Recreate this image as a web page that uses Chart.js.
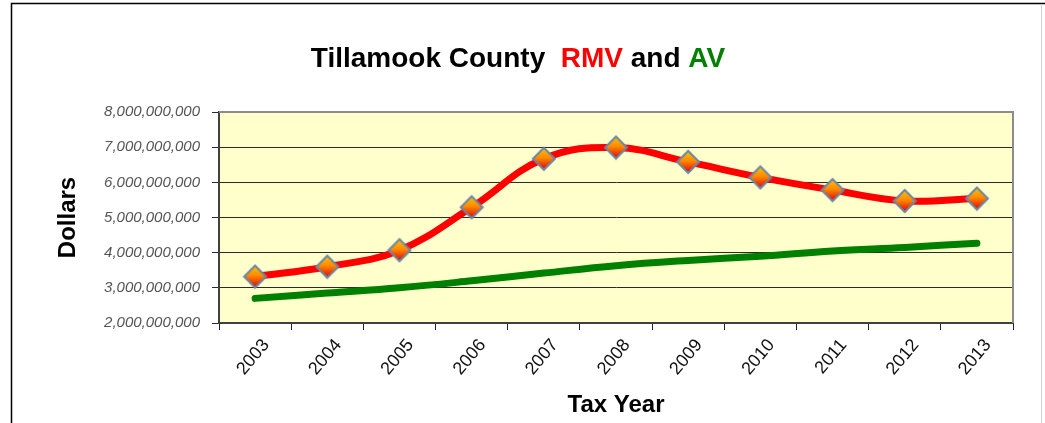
<!DOCTYPE html>
<html>
<head>
<meta charset="utf-8">
<script src="https://cdn.jsdelivr.net/npm/chart.js@4.4.0/dist/chart.umd.min.js"></script>
<style>
html,body{margin:0;padding:0;background:#fff;}
canvas{display:block;}
</style>
</head>
<body>
<canvas id="c" width="1045" height="423"></canvas>
<script>
// ---- data ----
const years = ['2003','2004','2005','2006','2007','2008','2009','2010','2011','2012','2013'];
const rmv = [3320000000, 3600000000, 4070000000, 5290000000, 6670000000, 6990000000, 6580000000, 6140000000, 5780000000, 5470000000, 5540000000];
const av  = [2700000000, 2850000000, 3000000000, 3200000000, 3420000000, 3630000000, 3780000000, 3900000000, 4050000000, 4150000000, 4270000000];
const yMin = 2000000000;
const yMax = 8000000000;
const yStep = 1000000000;
const titleParts = [
  {text: 'Tillamook County', color: '#000000'},
  {text: '  ', color: '#000000'},
  {text: 'RMV', color: '#ff0000'},
  {text: ' and ', color: '#000000'},
  {text: 'AV', color: '#008000'}
];

// diamond marker image
function makeDiamond() {
  const s = 26;
  const cv = document.createElement('canvas');
  cv.width = s; cv.height = s;
  const g = cv.getContext('2d');
  const c = s / 2, r = 11;
  g.beginPath();
  g.moveTo(c, c - r); g.lineTo(c + r, c); g.lineTo(c, c + r); g.lineTo(c - r, c); g.closePath();
  const grad = g.createLinearGradient(0, c - r, 0, c + r);
  grad.addColorStop(0, '#ffc400');
  grad.addColorStop(0.45, '#ff8a00');
  grad.addColorStop(1, '#e00000');
  g.fillStyle = grad;
  g.fill();
  g.lineWidth = 2;
  g.strokeStyle = '#6a86a8';
  g.stroke();
  return cv;
}
const diamond = makeDiamond();

const decor = {
  id: 'decor',
  beforeDraw(chart) {
    const {ctx, chartArea: a} = chart;
    ctx.save();
    ctx.fillStyle = '#ffffff';
    ctx.fillRect(0, 0, chart.width, chart.height);
    ctx.fillStyle = '#ffffcc';
    ctx.fillRect(a.left, a.top, a.right - a.left, a.bottom - a.top);
    // outer frame
    ctx.strokeStyle = '#000';
    ctx.lineWidth = 1.5;
    ctx.beginPath();
    ctx.moveTo(11.5, 423); ctx.lineTo(11.5, 3.5); ctx.lineTo(1045, 3.5);
    ctx.stroke();
    ctx.strokeStyle = '#d0d0d0';
    ctx.lineWidth = 1;
    ctx.beginPath();
    ctx.moveTo(1041.5, 4); ctx.lineTo(1041.5, 423);
    ctx.stroke();
    ctx.restore();
  },
  beforeDatasetsDraw(chart) {
    const {ctx, chartArea: a} = chart;
    ctx.save();
    ctx.strokeStyle = '#8c8c8c';
    ctx.lineWidth = 2;
    ctx.beginPath();
    ctx.moveTo(a.left, a.top); ctx.lineTo(a.right, a.top); ctx.lineTo(a.right, a.bottom);
    ctx.stroke();
    ctx.restore();
  },
  afterDraw(chart) {
    const ctx = chart.ctx;
    ctx.save();
    ctx.font = 'bold 28px "Liberation Sans", Arial, sans-serif';
    ctx.textBaseline = 'alphabetic';
    ctx.textAlign = 'left';
    const total = titleParts.reduce((w, p) => w + ctx.measureText(p.text).width, 0);
    let x = 518 - total / 2;
    for (const p of titleParts) {
      ctx.fillStyle = p.color;
      ctx.fillText(p.text, x, 67);
      x += ctx.measureText(p.text).width;
    }
    ctx.restore();
  }
};

new Chart(document.getElementById('c'), {
  type: 'line',
  data: {
    labels: years,
    datasets: [
      {
        label: 'RMV',
        data: rmv,
        borderColor: '#ff0000',
        borderWidth: 7,
        tension: 0.4,
        borderCapStyle: 'round',
        pointStyle: diamond,
        pointRadius: 11,
        pointHoverRadius: 11,
        fill: false
      },
      {
        label: 'AV',
        data: av,
        borderColor: '#008000',
        borderWidth: 7,
        tension: 0.4,
        borderCapStyle: 'round',
        pointRadius: 0,
        pointHoverRadius: 0,
        fill: false
      }
    ]
  },
  options: {
    responsive: false,
    animation: false,
    devicePixelRatio: 1,
    layout: {padding: {top: 112, right: 32, bottom: 0, left: 50}},
    plugins: {legend: {display: false}, tooltip: {enabled: false}, title: {display: false}},
    scales: {
      x: {
        type: 'category',
        offset: true,
        grid: {offset: true, drawOnChartArea: false, drawTicks: true, tickLength: 7, color: '#222', lineWidth: 1},
        border: {color: '#404040', width: 2},
        ticks: {
          autoSkip: false, minRotation: 50, maxRotation: 50, labelOffset: 11, padding: 5,
          color: '#111', font: {family: '"Liberation Sans", Arial, sans-serif', size: 18}
        },
        title: {display: true, text: 'Tax Year', color: '#000', padding: {top: 0, bottom: 3},
          font: {family: '"Liberation Sans", Arial, sans-serif', size: 24, weight: 'bold'}},
        afterFit(s) { s.height = 100; }
      },
      y: {
        type: 'linear',
        min: yMin, max: yMax,
        grid: {color: '#2a2a2a', lineWidth: 1, tickLength: 7},
        border: {color: '#404040', width: 2},
        ticks: {
          stepSize: yStep, padding: 12, color: '#555',
          font: {family: '"Liberation Sans", Arial, sans-serif', size: 15, style: 'italic'},
          callback: v => Number(v).toLocaleString('en-US')
        },
        title: {display: true, text: 'Dollars', color: '#000', padding: {top: 4, bottom: 0},
          font: {family: '"Liberation Sans", Arial, sans-serif', size: 24, weight: 'bold'}},
        afterFit(s) { s.width = 169; }
      }
    }
  },
  plugins: [decor]
});
</script>
</body>
</html>
